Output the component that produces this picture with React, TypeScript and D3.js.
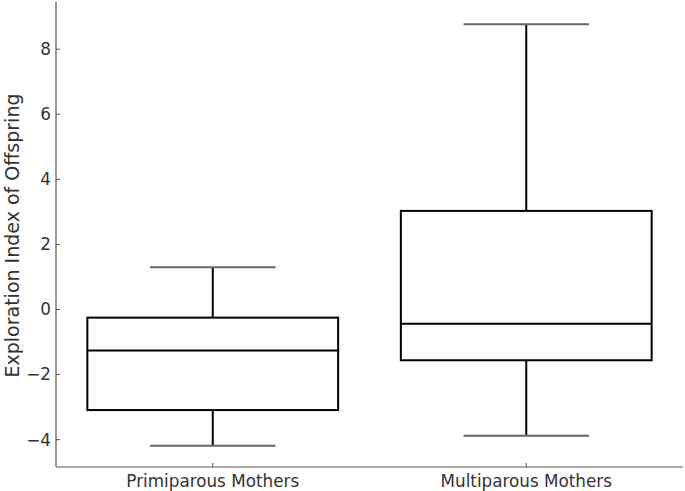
import React from "react";
import * as d3 from "d3";

const categories = ["Primiparous Mothers", "Multiparous Mothers"];
const whiskerLow = [-4.19, -3.88];
const q1 = [-3.09, -1.56];
const median = [-1.26, -0.44];
const q3 = [-0.25, 3.03];
const whiskerHigh = [1.3, 8.77];
const yTicks = [-4, -2, 0, 2, 4, 6, 8];

const W = 685, H = 491;
const m = { left: 56, right: 2, top: 2, bottom: 24 };

export default function App() {
  const x = d3.scaleLinear().domain([0.5, 2.5]).range([m.left, W - m.right]);
  const y = d3.scaleLinear().domain([-4.84, 9.45]).range([H - m.bottom, m.top]);
  const boxW = x(1.4) - x(1);
  const capW = x(1.2) - x(1);
  const font = "DejaVu Sans, sans-serif";
  return (
    <svg width={W} height={H} style={{ position: "absolute", left: 0, top: 0 }}>
      <rect width={W} height={H} fill="#fff" />
      {categories.map((c, i) => {
        const cx = x(i + 1);
        return (
          <g key={c}>
            <line x1={cx} x2={cx} y1={y(q3[i])} y2={y(whiskerHigh[i])} stroke="#000" strokeWidth={2} />
            <line x1={cx} x2={cx} y1={y(q1[i])} y2={y(whiskerLow[i])} stroke="#000" strokeWidth={2} />
            <line x1={cx - capW} x2={cx + capW} y1={y(whiskerHigh[i])} y2={y(whiskerHigh[i])} stroke="#666" strokeWidth={2} />
            <line x1={cx - capW} x2={cx + capW} y1={y(whiskerLow[i])} y2={y(whiskerLow[i])} stroke="#666" strokeWidth={2} />
            <rect x={cx - boxW} y={y(q3[i])} width={boxW * 2} height={y(q1[i]) - y(q3[i])} fill="none" stroke="#000" strokeWidth={2} />
            <line x1={cx - boxW} x2={cx + boxW} y1={y(median[i])} y2={y(median[i])} stroke="#000" strokeWidth={2} />
            <line x1={cx} x2={cx} y1={H - m.bottom} y2={H - m.bottom - 4} stroke="#555" strokeWidth={1} />
            <text x={cx} y={H - m.bottom + 20} textAnchor="middle" fontFamily={font} fontSize={16.8} fill="#333">{c}</text>
          </g>
        );
      })}
      {yTicks.map((t) => (
        <g key={t}>
          <line x1={m.left} x2={m.left + 4} y1={y(t)} y2={y(t)} stroke="#555" strokeWidth={1} />
          <text x={m.left - 5} y={y(t)} dy="0.35em" textAnchor="end" fontFamily={font} fontSize={16.8} fill="#333">
            {t < 0 ? "\u2212" + Math.abs(t) : String(t)}
          </text>
        </g>
      ))}
      <line x1={m.left} x2={m.left} y1={m.top} y2={H - m.bottom} stroke="#555" strokeWidth={1.2} />
      <line x1={m.left} x2={W - m.right} y1={H - m.bottom} y2={H - m.bottom} stroke="#555" strokeWidth={1.2} />
      <text transform={`translate(19,${(m.top + H - m.bottom) / 2 + 1}) rotate(-90)`} textAnchor="middle" fontFamily={font} fontSize={19} fill="#333">
        Exploration Index of Offspring
      </text>
    </svg>
  );
}
